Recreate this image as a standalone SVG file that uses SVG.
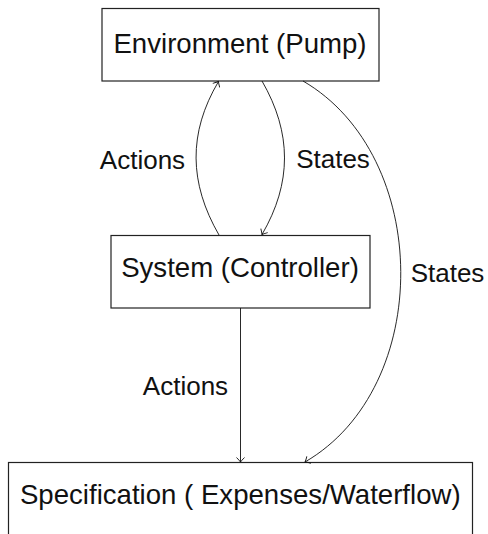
<svg xmlns="http://www.w3.org/2000/svg" width="488" height="534" viewBox="0 0 488 534">
<style>
.box{fill:#fff;stroke:#222;stroke-width:1.2}
.t{font-family:"Liberation Sans",Arial,sans-serif;fill:#111;text-anchor:middle}
.n{font-size:27.6px}
.l{font-size:26px}
.c{fill:none;stroke:#111;stroke-width:0.9;marker-end:url(#arr)}
</style>
<defs>
<marker id="arr" markerUnits="userSpaceOnUse" markerWidth="12" markerHeight="12" viewBox="-6 -6 12 12" refX="0" refY="0" orient="auto">
<path d="M-4.5,-4 Q-1.5,-1 0,0 Q-1.5,1 -4.5,4" fill="none" stroke="#111" stroke-width="0.9"/>
</marker>
</defs>
<rect width="488" height="534" fill="#fff"/>
<g id="env">
<rect class="box" x="102" y="8.5" width="277" height="72.5"/>
<text class="t n" x="240" y="52.7">Environment (Pump)</text>
</g>
<g id="sys">
<rect class="box" x="111" y="235.5" width="259" height="72.5"/>
<text class="t n" x="240" y="277.3">System (Controller)</text>
</g>
<g id="spec">
<rect class="box" x="8.5" y="462.5" width="464" height="90"/>
<text class="t n" x="240.3" y="504.3">Specification ( Expenses/Waterflow)</text>
</g>
<g id="connectors">
<path class="c" d="M219,235 C189,183 188,133 218.5,81.5"/>
<path class="c" d="M262,81 C292,133 292,183 262,234.5"/>
<path class="c" d="M303,81 C432,156 434,387 305,462"/>
<path class="c" d="M240.5,308 L240.5,462"/>
<text class="t l" x="142.5" y="169.3">Actions</text>
<text class="t l" x="333" y="168.3">States</text>
<text class="t l" x="447.5" y="282.3">States</text>
<text class="t l" x="185.5" y="395">Actions</text>
</g>
</svg>
